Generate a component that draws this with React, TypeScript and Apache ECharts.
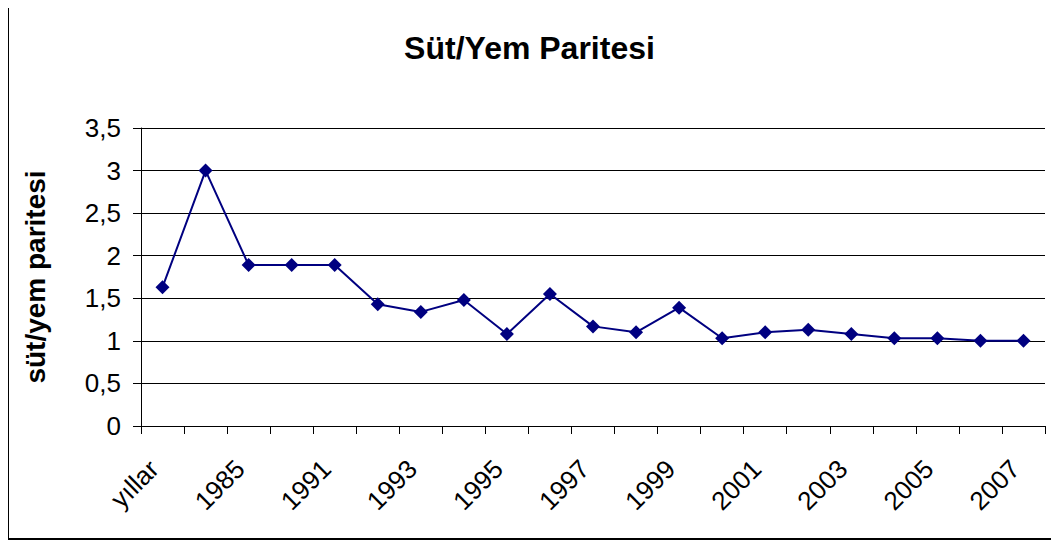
import React, { useEffect, useRef } from "react";
import * as echarts from "echarts";

const categories = [
  "yıllar", "1980", "1985", "1990", "1991", "1992", "1993", "1994", "1995", "1996",
  "1997", "1998", "1999", "2000", "2001", "2002", "2003", "2004", "2005", "2006", "2007",
];
const values = [
  1.63, 3.0, 1.89, 1.89, 1.89, 1.43, 1.34, 1.48, 1.08, 1.55,
  1.17, 1.1, 1.39, 1.03, 1.1, 1.13, 1.08, 1.03, 1.03, 1.0, 1.0,
];
const titleText = "Süt/Yem Paritesi";
const yAxisName = "süt/yem paritesi";

export default function App() {
  const ref = useRef<HTMLDivElement>(null);
  useEffect(() => {
    if (!ref.current) return;
    const chart = echarts.init(ref.current, null, { renderer: "svg" });
    const font = "'Liberation Sans', Arial, sans-serif";
    chart.setOption({
      animation: false,
      backgroundColor: "#ffffff",
      title: {
        text: titleText,
        left: "center",
        top: 27,
        textStyle: { fontFamily: font, fontSize: 32, fontWeight: "bold", color: "#000" },
      },
      graphic: [
        {
          type: "rect",
          z: 100,
          shape: { x: 8, y: 7, width: 1080, height: 532 },
          style: { fill: null, stroke: "#000000", lineWidth: 2 },
        },
      ],
      grid: { left: 141, right: 14, top: 128, bottom: 117 },
      xAxis: {
        type: "category",
        data: categories,
        boundaryGap: true,
        axisLine: { lineStyle: { color: "#000", width: 1 } },
        axisTick: { show: true, interval: 0, length: 8, lineStyle: { color: "#000" } },
        axisLabel: {
          interval: 1,
          rotate: 45,
          margin: 30,
          padding: [0, 12, 0, 0],
          fontFamily: font,
          fontSize: 26,
          color: "#000",
        },
      },
      yAxis: {
        type: "value",
        min: 0,
        max: 3.5,
        interval: 0.5,
        name: yAxisName,
        nameLocation: "middle",
        nameGap: 92,
        nameTextStyle: { fontFamily: font, fontSize: 28, fontWeight: "bold", color: "#000" },
        axisLine: { show: true, lineStyle: { color: "#000", width: 1 } },
        axisTick: { show: true, length: 8, lineStyle: { color: "#000" } },
        splitLine: { show: true, lineStyle: { color: "#000", width: 1 } },
        axisLabel: {
          margin: 20,
          fontFamily: font,
          fontSize: 26,
          color: "#000",
          formatter: (v: number) => String(v).replace(".", ","),
        },
      },
      series: [
        {
          type: "line",
          data: values,
          symbol: "diamond",
          symbolSize: 14,
          lineStyle: { color: "#000080", width: 2 },
          itemStyle: { color: "#000080" },
        },
      ],
    });
    return () => chart.dispose();
  }, []);
  return (
    <div
      ref={ref}
      style={{ width: 1059, height: 543, marginLeft: -8, marginTop: -8 }}
    />
  );
}
